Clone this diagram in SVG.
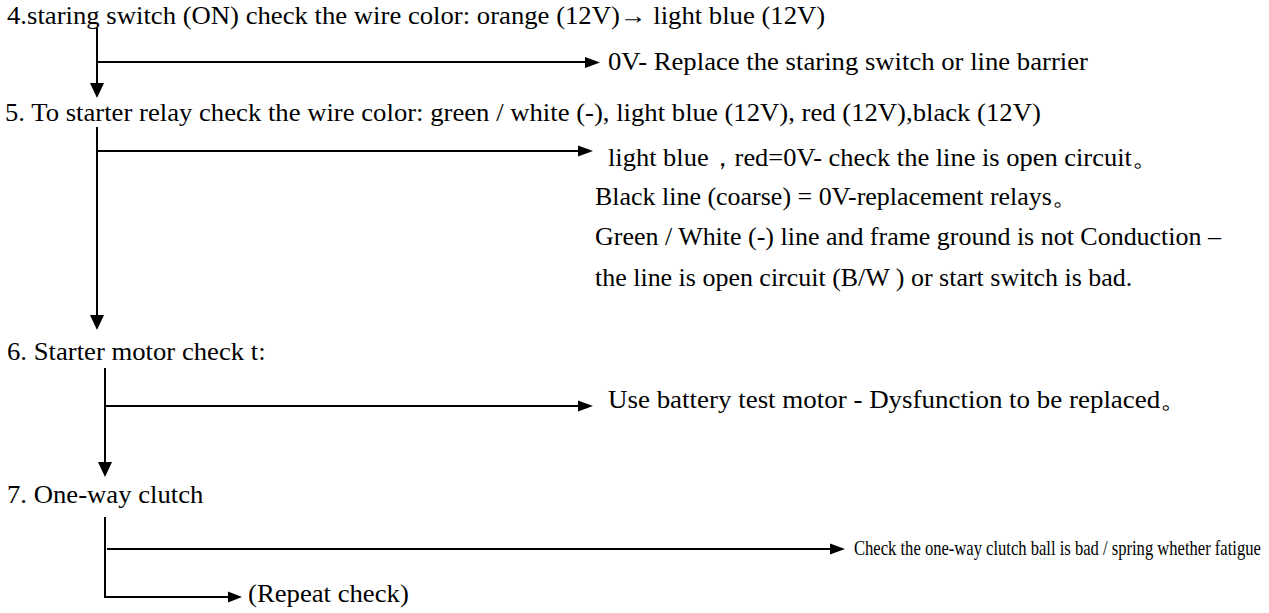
<svg xmlns="http://www.w3.org/2000/svg" width="1269" height="613" viewBox="0 0 1269 613">
<style>
text{font-family:"Liberation Serif","Times New Roman",serif;font-size:24.5px;fill:#000}
.sm{font-size:21px}
.ln{stroke:#000;stroke-width:2;fill:none}
.ah{fill:#000}
</style>
<rect width="1269" height="613" fill="#fff"/>
<g id="step4"><text transform="translate(7 24) scale(1.09 1)">4.staring switch (ON) check the wire color: orange (12V)→ light blue (12V)</text></g>
<g id="r4"><text transform="translate(608 70) scale(1.09 1)">0V- Replace the staring switch or line barrier</text></g>
<g id="step5"><text transform="translate(5 121) scale(1.09 1)">5. To starter relay check the wire color: green / white (-), light blue (12V), red (12V),black (12V)</text></g>
<g id="r5">
<text transform="translate(608 166) scale(1.08 1)"> light blue，red=0V- check the line is open circuit。</text>
<text transform="translate(595 205) scale(1.06 1)">Black line (coarse) = 0V-replacement relays。</text>
<text transform="translate(595 245) scale(1.06 1)">Green / White (-) line and frame ground is not Conduction –</text>
<text transform="translate(595 286) scale(1.06 1)">the line is open circuit (B/W ) or start switch is bad.</text>
</g>
<g id="step6"><text transform="translate(7 360) scale(1.09 1)">6. Starter motor check t:</text></g>
<g id="r6"><text transform="translate(608 408) scale(1.1 1)">Use battery test motor - Dysfunction to be replaced。</text></g>
<g id="step7"><text transform="translate(7 503) scale(1.09 1)">7. One-way clutch</text></g>
<g id="r7"><text class="sm" transform="translate(854 555) scale(0.79 1)">Check the one-way clutch ball is bad / spring whether fatigue</text></g>
<g id="r7b"><text transform="translate(248 602) scale(1.09 1)">(Repeat check)</text></g>
<g id="connectors">
<line class="ln" x1="97" y1="28" x2="97" y2="86"/><polygon class="ah" points="90,83 104,83 97,98"/>
<line class="ln" x1="97" y1="62" x2="588" y2="62"/><polygon class="ah" points="585,57 585,68 600,62.5"/>
<line class="ln" x1="97" y1="127" x2="97" y2="318"/><polygon class="ah" points="90,315 104,315 97,330"/>
<line class="ln" x1="97" y1="151" x2="582" y2="151"/><polygon class="ah" points="578,145.5 578,156.5 593,151"/>
<line class="ln" x1="105" y1="368" x2="105" y2="465"/><polygon class="ah" points="98,462 112,462 105,477"/>
<line class="ln" x1="105" y1="406" x2="582" y2="406"/><polygon class="ah" points="578,400.5 578,411.5 593,406"/>
<line class="ln" x1="105" y1="517" x2="105" y2="597"/>
<line class="ln" x1="104" y1="597" x2="232" y2="597"/><polygon class="ah" points="228,591.5 228,602.5 242,597"/>
<line class="ln" x1="107" y1="549" x2="834" y2="549"/><polygon class="ah" points="830,543.5 830,554.5 845,549"/>
</g>
</svg>
